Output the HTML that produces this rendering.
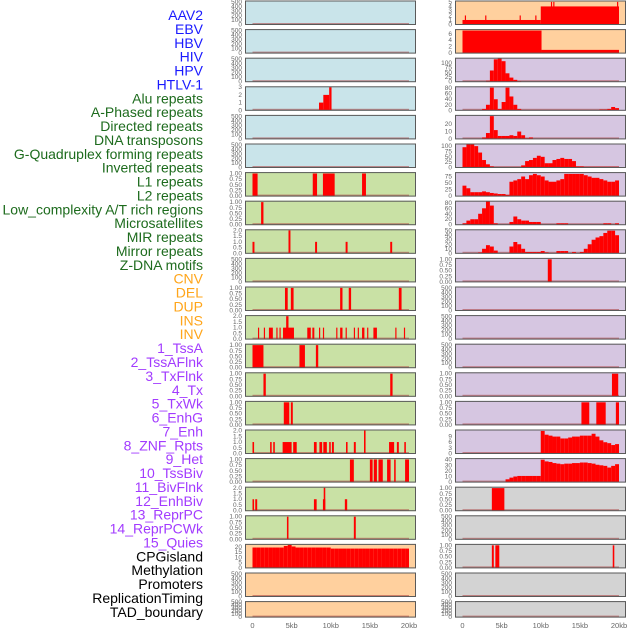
<!DOCTYPE html>
<html><head><meta charset="utf-8">
<style>
html,body{margin:0;padding:0;background:#fff;width:630px;height:630px;overflow:hidden}
svg{display:block}
.lbl{font-family:"Liberation Sans",sans-serif;font-size:14px}
.tk{font-family:"Liberation Sans",sans-serif;font-size:6.5px;fill:#666}
.ax{font-family:"Liberation Sans",sans-serif;font-size:7.5px;fill:#666}
</style></head>
<body>
<svg id="chart" width="630" height="630" viewBox="0 0 630 630" xmlns="http://www.w3.org/2000/svg"></svg>
<script>
// ---- labels ----
const trackLabels = ["AAV2","EBV","HBV","HIV","HPV","HTLV-1","Alu repeats","A-Phased repeats","Directed repeats","DNA transposons","G-Quadruplex forming repeats","Inverted repeats","L1 repeats","L2 repeats","Low_complexity A/T rich regions","Microsatellites","MIR repeats","Mirror repeats","Z-DNA motifs","CNV","DEL","DUP","INS","INV","1_TssA","2_TssAFlnk","3_TxFlnk","4_Tx","5_TxWk","6_EnhG","7_Enh","8_ZNF_Rpts","9_Het","10_TssBiv","11_BivFlnk","12_EnhBiv","13_ReprPC","14_ReprPCWk","15_Quies","CPGisland","Methylation","Promoters","ReplicationTiming","TAD_boundary"];
const labelGroups = [6,13,5,15,5];
const labelColors = ["#1a1aff","#1d6b1d","#ffa51a","#a23bff","#000000"];
const xTickValues = [0,5,10,15,20];
const xTickLabels = ["0","5kb","10kb","15kb","20kb"];

// ---- tick label sets ----
const ticks500 = ["0","100","200","300","400","500"];
const ticksUnit = ["0.00","0.25","0.50","0.75","1.00"];
const ticksTwo = ["0.0","0.5","1.0","1.5","2.0"];

// ---- segment data [startKb, endKb, value] ----
const aav2Right = [[0,10,1],[0.3,0.45,2],[2.9,3.05,2],[7.3,7.45,2],[9.3,9.45,2],[10,20,4],[11.3,11.45,5],[11.6,11.75,5],[19.75,19.9,5]];
const ebvRight = [[0,10.1,7],[10.1,20,1]];
const hivLeft = [[8.5,9.05,1],[9.05,9.8,2],[9.8,10.1,3]];
const l1Left = [[0,0.65,1],[7.7,8.25,1],[9,10.5,1],[14,14.5,1]];
const l2Left = [[1.1,1.4,1]];
const microLeft = [[0,0.25,1],[4.6,4.85,2],[8.0,8.25,1],[11.9,12.15,1],[17.6,17.85,1]];
const zdnaRight = [[10.9,11.4,1]];
const cnvLeft = [[4.15,4.5,1],[4.9,5.25,1],[11.2,11.5,1],[12.3,12.6,1],[18.7,19.05,1]];
const delLeft = [[0.7,0.85,1],[1.45,1.6,1],[2.1,2.6,1],[3.05,3.2,1],[3.45,3.6,1],[3.9,5.3,1],[4.3,4.6,2],[7.0,7.45,1],[7.65,7.9,1],[8.5,8.65,1],[9.0,9.15,1],[10.7,10.85,1],[11.2,11.5,1],[11.9,12.05,1],[12.95,13.1,1],[13.45,13.6,1],[14.0,14.3,1],[14.65,14.8,1],[15.45,15.9,1],[18.25,18.4,1],[19.35,19.5,1]];
const dupLeft = [[0,1.4,1],[6.0,6.7,1],[8.1,8.4,1]];
const insLeft = [[1.4,1.7,1],[17.6,17.9,1]];
const insRight = [[19.1,19.9,1]];
const invLeft = [[4.0,4.7,1],[4.9,5.15,1]];
const invRight = [[15.2,16.2,1],[17.1,18.3,1],[19.6,20,1]];
const tssaLeft = [[0,0.2,1],[2.25,2.45,1],[2.65,2.85,1],[3.85,5.0,1],[5.2,5.65,1],[7.85,8.2,1],[8.55,8.9,1],[9.05,9.5,1],[9.8,10.0,1],[10.15,10.4,1],[11.95,12.15,1],[12.95,13.2,1],[14.25,14.45,2],[17.45,18.1,1],[18.45,18.7,1],[19.4,19.6,1]];
const tssaflnkLeft = [[12.45,12.95,1],[15.0,15.35,1],[15.5,15.9,1],[16.1,16.65,1],[17.2,17.65,1],[18.1,18.3,1],[19.5,20,1]];
const txflnkLeft = [[0,0.2,1],[0.35,0.6,1],[7.85,8.2,1],[9.0,9.3,1],[9.1,9.3,2],[11.8,12.1,1]];
const txflnkRight = [[3.75,5.35,1]];
const txLeft = [[4.4,4.6,1],[12.95,13.2,1]];
const txwkRight = [[3.75,4.0,1],[4.2,4.7,1],[19.2,19.4,1]];

// ---- histogram data (0.5 kb bins, 0..20 kb) ----
const hbvBins = [0,0,0,0,0,0,5,60,120,125,110,45,22,10,3,0,0,0,0,0,0,0,0,0,0,0,0,0,0,0,0,0,0,0,0,0,0,0,0,0];
const hivBins = [0,0,0,0,0,5,20,82,40,5,30,82,50,20,5,0,0,0,0,0,0,0,0,0,0,0,0,0,0,0,0,0,0,0,0,3,3,5,12,8];
const hpvBins = [0,0,0,0,0,2,8,31,12,4,4,4,5,4,10,5,1,2,0,0,0,0,0,0,0,0,0,0,0,0,0,0,0,0,0,0,0,0,0,0];
const htlvBins = [95,108,108,100,70,35,15,5,0,0,0,0,0,0,0,10,30,35,45,55,50,20,20,35,40,45,40,40,30,5,5,3,3,3,3,3,3,3,3,3];
const aluBins = [40,30,15,15,15,18,15,12,10,8,8,5,55,60,65,75,65,80,85,80,75,60,55,55,60,65,85,85,85,85,85,80,75,70,70,65,60,55,55,60];
const aphasedBins = [5,15,20,20,40,60,85,70,5,0,0,0,10,30,20,15,15,10,10,10,0,0,0,0,5,5,5,0,0,0,0,0,0,0,0,0,5,5,0,5];
const directedBins = [0,0,0,0,2,10,18,15,6,0,0,0,15,25,20,10,3,3,3,3,5,2,0,0,5,5,5,0,3,0,3,10,20,30,35,38,45,50,50,40];
const tssbivBins = [0,0,0,0,0,0,0,0,0,0,0,0,0,0,0,0,0,0,0,0,12,10,9.5,9,9,8,8,8.5,9,9,9.5,9.5,9.5,10.5,9,7,6,5.5,4.5,5];
const bivflnkBins = [0,0,0,0,0,0,0,0,0,0,0,5,8,10,11,11,11,11,11,11,40,37,36,34,33,32,33,33,34,34,35,35,34,33,31,30,29,26,29,32];
const cpgBins = [19.5,19.5,19.5,19.5,19.5,19.5,19.5,19.5,21,22,20.5,19.5,19.5,19.5,19.5,19.5,19.5,19.5,19.5,19.5,18.5,18.5,18.5,18.5,18.5,18.5,18.5,18.5,18.5,18.5,18.5,18.5,18.5,18.5,18.5,18.5,18.5,18.5,18.5,18.5];

const BL="#c9e4ea", OR="#ffd09e", PU="#d6c6e1", GR="#c9e1a5", GY="#d3d3d3";
// panels: [row, col, bg, ymax, tickLabels, segments, bins]
const panels = [
 [0,0,BL,520,ticks500,null,null],[0,1,OR,5.2,["0","1","2","3","4","5"],aav2Right,null],
 [1,0,BL,520,ticks500,null,null],[1,1,OR,7.3,["0","2","4","6"],ebvRight,null],
 [2,0,BL,520,ticks500,null,null],[2,1,PU,126,["0","25","50","75","100"],null,hbvBins],
 [3,0,BL,3.05,["0","1","2","3"],hivLeft,null],[3,1,PU,85,["0","20","40","60","80"],null,hivBins],
 [4,0,BL,520,ticks500,null,null],[4,1,PU,32,["0","10","20"],null,hpvBins],
 [5,0,BL,520,ticks500,null,null],[5,1,PU,110,["0","25","50","75","100"],null,htlvBins],
 [6,0,GR,1.04,ticksUnit,l1Left,null],[6,1,PU,90,["0","25","50","75"],null,aluBins],
 [7,0,GR,1.04,ticksUnit,l2Left,null],[7,1,PU,86,["0","20","40","60","80"],null,aphasedBins],
 [8,0,GR,2.05,ticksTwo,microLeft,null],[8,1,PU,52,["0","10","20","30","40","50"],null,directedBins],
 [9,0,GR,520,ticks500,null,null],[9,1,PU,1.04,ticksUnit,zdnaRight,null],
 [10,0,GR,1.04,ticksUnit,cnvLeft,null],[10,1,PU,520,ticks500,null,null],
 [11,0,GR,2.05,ticksTwo,delLeft,null],[11,1,PU,520,ticks500,null,null],
 [12,0,GR,1.04,ticksUnit,dupLeft,null],[12,1,PU,520,ticks500,null,null],
 [13,0,GR,1.04,ticksUnit,insLeft,null],[13,1,PU,1.04,ticksUnit,insRight,null],
 [14,0,GR,1.04,ticksUnit,invLeft,null],[14,1,PU,1.04,ticksUnit,invRight,null],
 [15,0,GR,2.05,ticksTwo,tssaLeft,null],[15,1,PU,12.5,["0","3","6","9"],null,tssbivBins],
 [16,0,GR,1.04,ticksUnit,tssaflnkLeft,null],[16,1,PU,42,["0","10","20","30","40"],null,bivflnkBins],
 [17,0,GR,2.05,ticksTwo,txflnkLeft,null],[17,1,GY,1.04,ticksUnit,txflnkRight,null],
 [18,0,GR,1.04,ticksUnit,txLeft,null],[18,1,GY,520,ticks500,null,null],
 [19,0,OR,22.5,["0","5","10","15","20"],null,cpgBins],[19,1,GY,1.04,ticksUnit,txwkRight,null],
 [20,0,OR,520,ticks500,null,null],[20,1,GY,520,ticks500,null,null],
 [21,0,OR,520,ticks500,null,null],[21,1,GY,520,ticks500,null,null]
];

const svg=document.getElementById('chart');
const NS="http://www.w3.org/2000/svg";
function mk(tag,attrs,parent){const e=document.createElementNS(NS,tag);for(const k in attrs)e.setAttribute(k,attrs[k]);(parent||svg).appendChild(e);return e;}
function xScale(kb,col){return (col?462.5:252.5)+kb*7.825;}
const PANEL_X=[245,455], PANEL_W=171;
function rowTop(r){return 0.5+r*28.6;}
function rowH(r){return r===21?16.5:24.5;}

// labels
let li=0;
labelGroups.forEach((n,g)=>{for(let k=0;k<n;k++){
  const t=mk('text',{x:203,y:20+li*13.88,'text-anchor':'end',class:'lbl',fill:labelColors[g]});
  
  
  t.textContent=trackLabels[li];li++;}});

panels.forEach(p=>{
  const [r,c,bg,ymax,tl,segs,bins]=p;
  const top=rowTop(r),h=rowH(r),x0=PANEL_X[c];
  const g=mk('g',{});
  
  
  mk('rect',{x:x0,y:top,width:PANEL_W,height:h,fill:bg},g);
  const bot=top+h-0.5, ph=h-1;
  const yS=v=>bot-Math.min(v/ymax,1)*ph;
  mk('rect',{x:xScale(0,c),y:bot-1.5,width:xScale(20,c)-xScale(0,c),height:1.5,fill:'rgba(170,60,60,0.55)'},g);
  const drawBar=(a,b,v)=>{if(v<=0)return;const y=yS(v);
    const rb=mk('rect',{x:xScale(a,c),y:y,width:Math.max(xScale(b,c)-xScale(a,c),0.8),height:bot-y,fill:'#ff0000'},g);
    
    };
  if(segs)segs.forEach(s=>drawBar(s[0],s[1],s[2]));
  if(bins)bins.forEach((v,i)=>drawBar(i*0.5,i*0.5+0.5,v));
  mk('rect',{x:x0+0.5,y:top+0.5,width:PANEL_W-1,height:h-1,fill:'none',stroke:'#5a5a5a','stroke-width':1},g);
  tl.forEach(s=>{const v=parseFloat(s);const t=mk('text',{x:x0-3,y:yS(v)+2,'text-anchor':'end',class:'tk'},g);
    
    
    t.textContent=s;});
});
[0,1].forEach(c=>{xTickValues.forEach((v,i)=>{
  const t=mk('text',{x:xScale(v,c),y:628,'text-anchor':'middle',class:'ax'});
  
  
  t.textContent=xTickLabels[i];});});
</script>
</body></html>
